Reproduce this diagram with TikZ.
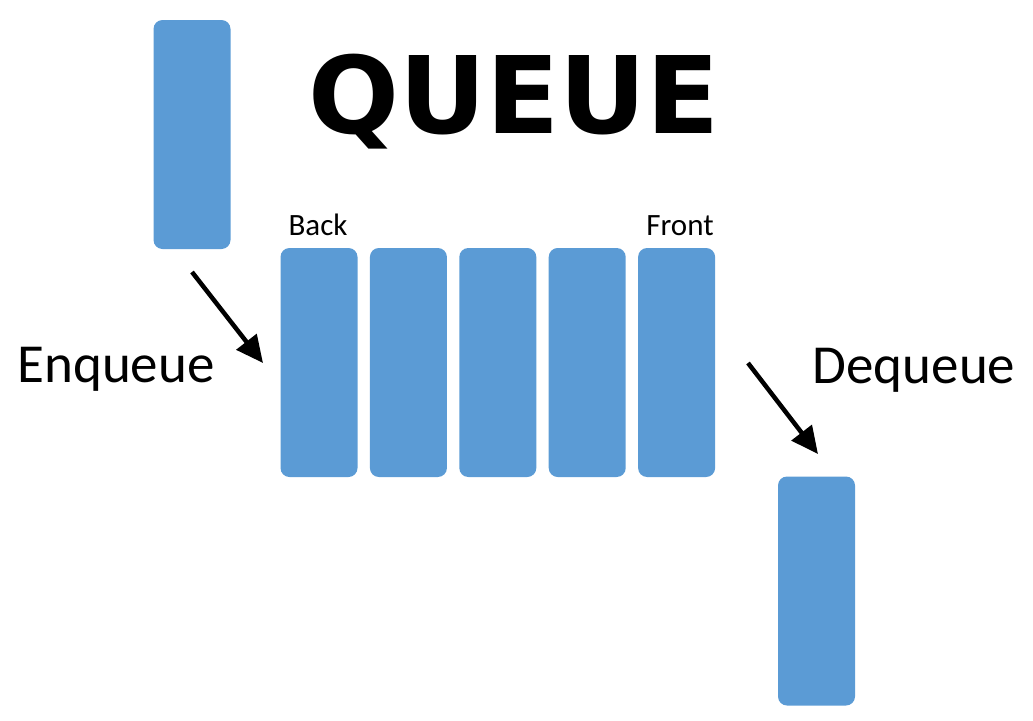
\documentclass[tikz,border=0pt]{standalone}
\usepackage{fontspec}
\setmainfont{Carlito}
\newfontfamily\titlefont{DejaVu Sans}
\usetikzlibrary{positioning,arrows.meta}
\definecolor{slotblue}{HTML}{5B9BD5}

\begin{document}
\begin{tikzpicture}[x=1pt,y=-1pt,
   slot/.style={fill=slotblue,rounded corners=9pt,minimum width=77pt,
     minimum height=229pt,inner sep=0pt},
   move/.style={line width=4.5pt,-{Triangle[length=27pt,width=25pt]}},
   lbl/.style={inner sep=0pt,anchor=base,font=\fontsize{55}{62}\selectfont},
   tag/.style={inner sep=0pt,anchor=base,font=\fontsize{31}{36}\selectfont}]
\useasboundingbox (0,0) rectangle (1033,720);
% title
\node[inner sep=0pt,anchor=base] (title) at (514,133)
   {\titlefont\bfseries\fontsize{107}{112}\selectfont QUEUE};
% queue
\node[slot] (q1) at (319,362.5) {};
\node[slot,right=12pt of q1] (q2) {};
\node[slot,right=12pt of q2] (q3) {};
\node[slot,right=12pt of q3] (q4) {};
\node[slot,right=12pt of q4] (q5) {};
\node[tag] (back) at (318,235) {Back};
\node[tag] (front) at (680,235) {Front};
% incoming and outgoing
\node[slot] (inbox) at (192,134.5) {};
\node[slot] (outbox) at (816.5,591) {};
\node[lbl] (enq) at (116,382) {Enqueue};
\node[lbl] (deq) at (914,383) {Dequeue};
\coordinate (enqfrom) at (192,272);
\coordinate (enqto) at (263,363);
\coordinate (deqfrom) at (748,363);
\coordinate (deqto) at (818,454);
\draw[move] (enqfrom) -- (enqto);
\draw[move] (deqfrom) -- (deqto);
\end{tikzpicture}
\end{document}
